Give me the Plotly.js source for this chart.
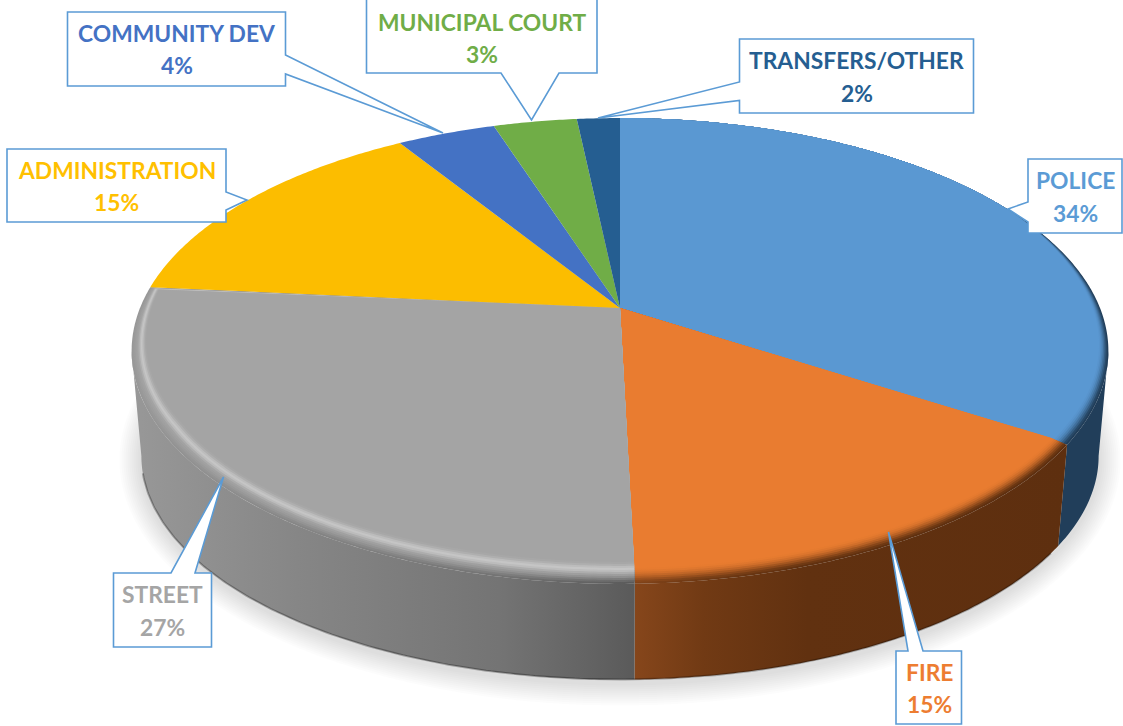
<!DOCTYPE html>
<html>
<head>
<meta charset="utf-8">
<script src="https://cdn.plot.ly/plotly-3.0.1.min.js"></script>
<style>html,body{margin:0;padding:0;background:#fff}#chart{width:1123px;height:726px}</style>
</head>
<body>
<div id="chart"></div>
<script>
// ---- data ----
const categories = ['POLICE', 'FIRE', 'STREET', 'ADMINISTRATION', 'COMMUNITY DEV', 'MUNICIPAL COURT', 'TRANSFERS/OTHER'];
const values = [34.2, 15.4, 26.9, 14.6, 3.9, 3.3, 1.7];

// ---- styles ----
const faceColors = ['#5A98D2', '#E97C30', '#A4A4A4', '#FCBD00', '#4472C4', '#70AD47', '#255E91'];
const textColors = ['#5B9BD5', '#ED7D31', '#A5A5A5', '#FFC000', '#4472C4', '#70AD47', '#255E91'];
const wallStops = [
  [[0, '#213E5A'], [1, '#213E5A']],
  [[0, '#86461B'], [0.16, '#713A14'], [0.4, '#613110'], [1, '#5E2F0F']],
  [[0, '#989898'], [0.33, '#868686'], [0.73, '#747474'], [0.91, '#636363'], [1, '#5A5A5A']],
  null, null, null, null
];
// [inset px, share of wall colour, share of white]; painted from the rim inward
const rimRamps = [
  [[0,1,0],[2,.88,0],[4,.66,0],[6,.44,0],[8,.26,0],[10,.12,0],[12,.04,0],[14,0,0]],
  [[0,1,0],[2,.9,0],[4,.72,0],[6,.52,0],[8,.33,0],[10,.18,0],[12,.08,0],[14,.02,0],[16,0,0]],
  [[0,1,0],[2,.8,0],[4,.55,0],[6,.3,0],[8,.1,0],[10,0,.1],[12,0,.26],[14,0,.36],[16,0,.26],[18,0,.12],[20,0,.03],[22,0,0]],
  null, null, null, null
];

// ---- callout boxes (label furniture, in pixels of the page) ----
const calloutOutlines = [
  [[1028,159],[1122,159],[1122,233],[1028,233],[1028,222],[1008,209],[1028,202]],
  [[896,651],[908,651],[888.5,532],[923,651],[961.5,651],[961.5,724],[896,724]],
  [[113.5,573],[171,573],[223.5,477],[195,573],[211.5,573],[211.5,647],[113.5,647]],
  [[7,149],[226,149],[226,192],[247,200],[226,210],[226,222],[7,222]],
  [[67.5,12],[285.5,12],[285.5,55],[443,133],[285.5,74],[285.5,86],[67.5,86]],
  [[366.5,-3],[597,-3],[597,73],[559,73],[531.5,120],[501,73],[366.5,73]],
  [[739.5,39],[973.5,39],[973.5,113],[739.5,113],[739.5,100.5],[598,118],[739.5,82]]
];
const labelCentres = [[1075,196.5],[929,688],[162,610.5],[116.5,186],[176.5,49],[482,38],[856.5,76.5]];
const lineGap = 16.3;

// ---- projection of the tilted disc ----
const HUB = {x: 620, y: 308}, K = 0.1845, RX = 480, RY = 225;
const ELL = {x: 620, y: 351, a: 488, b: 233};
const WALL = {sx: 0.98, sy: 0.96, y: 456};
const SILHOUETTE = Math.acos(-K) * 180 / Math.PI;
const rad = d => d * Math.PI / 180;
function rim(deg) {
  const u = Math.sin(rad(deg)), v = -Math.cos(rad(deg)), q = 1 - K * v;
  return [HUB.x + RX * u / q, HUB.y + RY * v / q];
}
function inset(deg, d) {
  const p = rim(deg), v = -Math.cos(rad(deg));
  const w = Math.max(0, Math.min(1, (v + 0.5) / 1.0));
  return [ELL.x + (p[0] - ELL.x) * (1 - d * w / ELL.a), ELL.y + (p[1] - ELL.y) * (1 - d * w / ELL.b)];
}
function base(deg) {
  const p = rim(deg);
  return [ELL.x + (p[0] - ELL.x) * WALL.sx, WALL.y + (p[1] - ELL.y) * WALL.sy];
}
function arc(a0, a1, fn) {
  const out = [], n = Math.max(2, Math.ceil(Math.abs(a1 - a0) / 0.5));
  for (let i = 0; i <= n; i++) out.push(fn(a0 + (a1 - a0) * i / n));
  return out;
}
const xs = pts => pts.map(p => p[0]);
const ys = pts => pts.map(p => p[1]);
function hex(c) { return [1, 3, 5].map(i => parseInt(c.substr(i, 2), 16)); }
function blend(a, b, t) {
  const x = hex(a), y = hex(b);
  return '#' + x.map((v, i) => Math.round(v + (y[i] - v) * t).toString(16).padStart(2, '0')).join('');
}

// ---- slice angles come from the values ----
const total = values.reduce((s, v) => s + v, 0);
const angles = [];
values.reduce((s, v) => { angles.push([s / total * 360, (s + v) / total * 360]); return s + v; }, 0);

const traces = [];
const poly = (pts, extra) => Object.assign({
  type: 'scatter', mode: 'none', x: xs(pts), y: ys(pts), fill: 'toself', hoverinfo: 'skip', showlegend: false
}, extra);

// soft shadow under the disc
for (let e = 22; e >= 2; e -= 2) {
  const pts = arc(0, 360, a => {
    const p = base(a);
    return [ELL.x + (p[0] - ELL.x) * (1 + e / 478), WALL.y + 4 + (p[1] - WALL.y) * (1 + e / 224)];
  });
  traces.push(poly(pts, {fillcolor: 'rgba(0,0,0,0.013)'}));
}

// side walls, from silhouette to silhouette
angles.forEach((ang, i) => {
  if (!wallStops[i]) return;
  const a0 = Math.max(ang[0], SILHOUETTE), a1 = Math.min(ang[1], 360 - SILHOUETTE);
  if (a0 >= a1) return;
  const pts = arc(a0, a1, rim).concat(arc(a1, a0, base));
  traces.push(poly(pts, {fillgradient: {type: 'horizontal', colorscale: wallStops[i]}}));
});

// dark lower edge of the walls
traces.push({
  type: 'scatter', mode: 'lines', x: xs(arc(125, 255, base)), y: ys(arc(125, 255, base)),
  line: {color: 'rgba(0,0,0,0.28)', width: 2}, hoverinfo: 'skip', showlegend: false
});

// top faces
angles.forEach((ang, i) => {
  const sector = d => [[HUB.x, HUB.y]].concat(arc(ang[0], ang[1], a => inset(a, d)));
  const label = categories[i] + ': ' + Math.round(values[i]) + '%';
  if (!rimRamps[i]) {
    traces.push(poly(sector(0), {fillcolor: faceColors[i], hoveron: 'fills', text: label, hoverinfo: 'text', name: categories[i]}));
    return;
  }
  rimRamps[i].forEach(step => {
    const [d, toWall, toWhite] = step;
    const scale = wallStops[i].map(s => [s[0], blend(blend(faceColors[i], s[1], toWall), '#FFFFFF', toWhite)]);
    traces.push(poly(sector(d), {fillgradient: {type: 'horizontal', colorscale: scale}, hoveron: 'fills', text: label, hoverinfo: 'text', name: categories[i]}));
  });
});

// callouts and their text
const shapes = calloutOutlines.map(o => ({
  type: 'path', xref: 'x', yref: 'y', layer: 'above',
  path: 'M' + o.map(p => p.join(',')).join('L') + 'Z',
  fillcolor: '#FFFFFF', line: {color: '#5B9BD5', width: 1.6}
}));
const annotations = [];
categories.forEach((c, i) => {
  const font = {family: 'Lato, sans-serif', size: 22.8, color: textColors[i], weight: 700};
  const common = {xref: 'x', yref: 'y', showarrow: false, xanchor: 'center', yanchor: 'middle', font};
  annotations.push(Object.assign({x: labelCentres[i][0], y: labelCentres[i][1] - lineGap, text: '<b>' + c + '</b>'}, common));
  annotations.push(Object.assign({x: labelCentres[i][0], y: labelCentres[i][1] + lineGap, text: '<b>' + Math.round(values[i] / total * 100) + '%</b>'}, common));
});

Plotly.newPlot('chart', traces, {
  width: 1123, height: 726,
  margin: {l: 0, r: 0, t: 0, b: 0},
  paper_bgcolor: '#FFFFFF', plot_bgcolor: '#FFFFFF',
  showlegend: false, hovermode: 'closest',
  xaxis: {range: [0, 1123], visible: false, fixedrange: true},
  yaxis: {range: [726, 0], visible: false, fixedrange: true},
  shapes, annotations
}, {displayModeBar: false});
</script>
</body>
</html>
